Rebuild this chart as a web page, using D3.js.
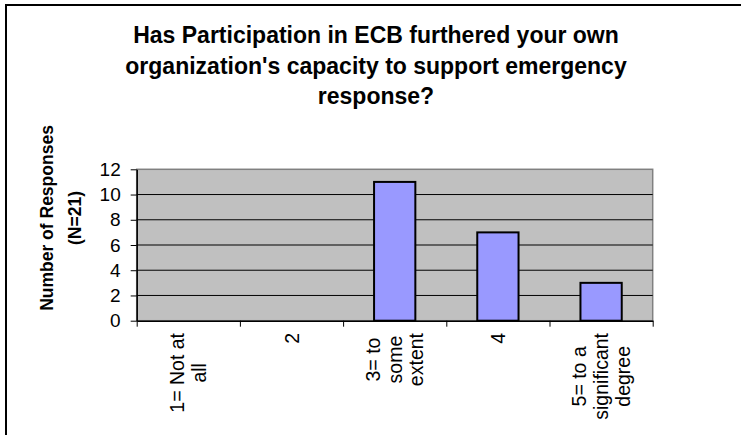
<!DOCTYPE html>
<html>
<head>
<meta charset="utf-8">
<script src="https://cdn.jsdelivr.net/npm/d3@7"></script>
<style>
  html, body { margin: 0; padding: 0; background: #fff; }
  svg { display: block; font-family: "Liberation Sans", Arial, sans-serif; }
</style>
</head>
<body>
<svg id="chart" width="741" height="435"></svg>
<script>
// Survey answers and response counts
const categories = [
  ["1= Not at", "all"],
  ["2"],
  ["3= to", "some", "extent"],
  ["4"],
  ["5= to a", "significant", "degree"]
];
const responses = [0, 0, 11, 7, 3];
const yTicks = [0, 2, 4, 6, 8, 10, 12];
const titleLines = [
  "Has Participation in ECB furthered your own",
  "organization's capacity to support emergency",
  "response?"
];
const yTitleLines = ["Number of Responses", "(N=21)"];

const svg = d3.select("#chart");
const plot = { left: 136.7, right: 652.7, top: 169.3, bottom: 320.7 };

// outer frame of the chart area
svg.append("rect")
  .attr("x", 6).attr("y", 5)
  .attr("width", 800).attr("height", 500)
  .attr("fill", "#fff").attr("stroke", "#000").attr("stroke-width", 2);

// title
svg.append("g").selectAll("text").data(titleLines).join("text")
  .attr("x", 376)
  .attr("y", (d, i) => 43 + i * 30.5)
  .attr("text-anchor", "middle")
  .attr("font-size", 23).attr("font-weight", "bold")
  .text(d => d);

const x = d3.scaleBand()
  .domain(d3.range(categories.length))
  .range([plot.left, plot.right])
  .paddingInner(0).paddingOuter(0);
const y = d3.scaleLinear().domain([0, 12]).range([plot.bottom, plot.top]);

// plot background
svg.append("rect")
  .attr("x", plot.left).attr("y", plot.top)
  .attr("width", plot.right - plot.left).attr("height", plot.bottom - plot.top)
  .attr("fill", "#c0c0c0").attr("stroke", "#808080").attr("stroke-width", 1.5);

// horizontal gridlines
svg.append("g").selectAll("line").data(yTicks.filter(t => t > 0 && t < 12)).join("line")
  .attr("x1", plot.left).attr("x2", plot.right)
  .attr("y1", d => y(d)).attr("y2", d => y(d))
  .attr("stroke", "#000").attr("stroke-width", 1);

// bars
const barW = x.bandwidth() / 2.5;
svg.append("g").selectAll("rect").data(responses).join("rect")
  .attr("x", (d, i) => x(i) + (x.bandwidth() - barW) / 2)
  .attr("y", d => y(d))
  .attr("width", barW)
  .attr("height", d => y(0) - y(d))
  .attr("fill", "#9999ff").attr("stroke", "#000").attr("stroke-width", 2)
  .style("display", d => d > 0 ? null : "none");

// y axis
const yAxis = svg.append("g")
  .attr("transform", `translate(${plot.left},0)`)
  .call(d3.axisLeft(y).tickValues(yTicks).tickSize(6).tickPadding(10).tickSizeOuter(0));
yAxis.select(".domain").attr("stroke", "#000").attr("stroke-width", 1.5);
yAxis.selectAll(".tick line").attr("stroke", "#000");
yAxis.selectAll(".tick text")
  .attr("font-size", 19).attr("fill", "#000")
  .attr("font-family", "Liberation Sans, Arial, sans-serif");

// x axis: tick marks at category boundaries
const xEdges = d3.scaleLinear().domain([0, categories.length]).range([plot.left, plot.right]);
const xAxis = svg.append("g")
  .attr("transform", `translate(0,${plot.bottom})`)
  .call(d3.axisBottom(xEdges).tickValues(d3.range(categories.length + 1))
    .tickSize(6).tickSizeOuter(0).tickFormat(""));
xAxis.select(".domain").attr("stroke", "#000").attr("stroke-width", 1.5);
xAxis.selectAll(".tick line").attr("stroke", "#000");

// rotated category labels, lines centred on the longest one
const labelFont = 19.5, labelLead = 21.7, labelTop = 333;
const measure = svg.append("text").attr("font-size", labelFont).attr("visibility", "hidden");
categories.forEach((lines, i) => {
  const widths = lines.map(l => { measure.text(l); return measure.node().getComputedTextLength(); });
  const maxW = d3.max(widths);
  const cx = x(i) + x.bandwidth() / 2;
  const g = svg.append("g")
    .attr("transform", `translate(${cx},${labelTop + maxW / 2}) rotate(-90)`);
  const n = lines.length;
  g.selectAll("text").data(lines).join("text")
    .attr("x", 0)
    .attr("y", (d, j) => (j - (n - 1) / 2) * labelLead + labelFont * 0.36)
    .attr("text-anchor", "middle")
    .attr("font-size", labelFont)
    .text(d => d);
});
measure.remove();

// y axis title
const yt = svg.append("g").attr("transform", "translate(0,218) rotate(-90)");
yt.selectAll("text").data(yTitleLines).join("text")
  .attr("x", 0)
  .attr("y", (d, i) => 53 + i * 28)
  .attr("text-anchor", "middle")
  .attr("font-size", 17.5).attr("font-weight", "bold")
  .text(d => d);
</script>
</body>
</html>
